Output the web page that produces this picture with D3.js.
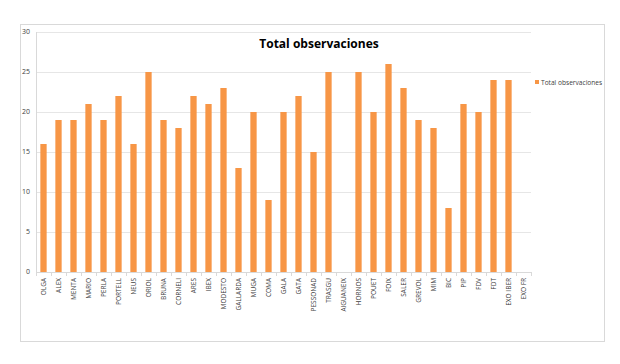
<!DOCTYPE html>
<html>
<head>
<meta charset="utf-8">
<script src="https://cdn.jsdelivr.net/npm/d3@7"></script>
<style>
  body { margin: 0; background: #fff; }
  text { font-family: "Open Sans", "Liberation Sans", sans-serif; fill: #404040; }
</style>
</head>
<body>
<div class="chart"></div>
<script>
const categories = ["OLGA", "ALEX", "MENTA", "MARIO", "PERLA", "PORTELL", "NEUS", "ORIOL", "BRUNA", "CORNELI",
        "ARES", "IBEX", "MODESTO", "GALLARDA", "MUGA", "COMA", "GALA", "GATA", "PESSONAD", "TRASGU",
        "AIGUANEIX", "HORNOS", "POUET", "FOIX", "SALER", "GREVOL", "MIM", "BIC", "PIP", "FDV", "FDT",
        "EXO IBER", "EXO FR"];
const values = [16, 19, 19, 21, 19, 22, 16, 25, 19, 18,
        22, 21, 23, 13, 20, 9, 20, 22, 15, 25,
        null, 25, 20, 26, 23, 19, 18, 8, 21, 20, 24,
        24, null];
const yTicks = [0, 5, 10, 15, 20, 25, 30];
const seriesName = "Total observaciones";

const W = 620, H = 364;
const margin = {top: 32, right: 89, bottom: 92, left: 36},
        width = W - margin.left - margin.right,
        height = H - margin.top - margin.bottom;

const svg = d3.select(".chart").append("svg")
        .attr("width", W)
        .attr("height", H);

// chart frame
svg.append("rect")
        .attr("x", 20.5).attr("y", 24.5)
        .attr("width", 584).attr("height", 317)
        .attr("fill", "none")
        .attr("stroke", "#d9d9d9");

const g = svg.append("g")
        .attr("transform", "translate(" + margin.left + "," + margin.top + ")");

const x = d3.scaleBand()
        .domain(categories)
        .range([0, width])
        .paddingInner(0.58)
        .paddingOuter(0.29);

const y = d3.scaleLinear()
        .domain([0, 30])
        .range([height, 0]);

// gridlines
g.selectAll(".grid")
        .data(yTicks.slice(1))
        .enter().append("line")
        .attr("x1", 0).attr("x2", width)
        .attr("y1", d => Math.round(y(d)) + 0.5)
        .attr("y2", d => Math.round(y(d)) + 0.5)
        .attr("stroke", "#e6e6e6");

// y labels
g.selectAll(".ylab")
        .data(yTicks)
        .enter().append("text")
        .attr("x", -6)
        .attr("y", d => y(d))
        .attr("dy", "0.35em")
        .style("text-anchor", "end")
        .style("font-size", "7px")
        .text(d => d);

// y axis line
g.append("line")
        .attr("x1", 0.5).attr("x2", 0.5)
        .attr("y1", 0).attr("y2", height)
        .attr("stroke", "#d9d9d9");

// bars
g.selectAll(".bar")
        .data(categories.map((c, i) => ({cat: c, val: values[i]})).filter(d => d.val != null))
        .enter().append("rect")
        .attr("x", d => x(d.cat))
        .attr("y", d => y(d.val))
        .attr("width", x.bandwidth())
        .attr("height", d => height - y(d.val))
        .attr("fill", "#f79646");

// x axis
const step = x.step();
g.append("line")
        .attr("x1", 0).attr("x2", width)
        .attr("y1", height + 0.5).attr("y2", height + 0.5)
        .attr("stroke", "#d9d9d9");

g.selectAll(".xtick")
        .data(d3.range(categories.length + 1))
        .enter().append("line")
        .attr("x1", i => Math.round(i * step) + 0.5)
        .attr("x2", i => Math.round(i * step) + 0.5)
        .attr("y1", height).attr("y2", height + 4)
        .attr("stroke", "#d9d9d9");

g.selectAll(".xlab")
        .data(categories)
        .enter().append("text")
        .attr("transform", d => "translate(" + (x(d) + x.bandwidth() / 2) + "," + (height + 6) + ") rotate(-90)")
        .attr("dy", "0.35em")
        .style("text-anchor", "end")
        .style("font-size", "6.5px")
        .text(d => d);

// title
svg.append("text")
        .attr("x", 319)
        .attr("y", 48)
        .style("text-anchor", "middle")
        .style("font-size", "12px")
        .style("font-weight", "bold")
        .style("fill", "#000")
        .text(seriesName);

// legend
const legend = svg.append("g")
        .attr("transform", "translate(535,83)");
legend.append("rect")
        .attr("x", 0).attr("y", -3)
        .attr("width", 4).attr("height", 4)
        .attr("fill", "#f79646");
legend.append("text")
        .attr("x", 6)
        .attr("y", 0)
        .attr("dy", "0.3em")
        .style("font-size", "6.6px")
        .text(seriesName);
</script>
</body>
</html>
